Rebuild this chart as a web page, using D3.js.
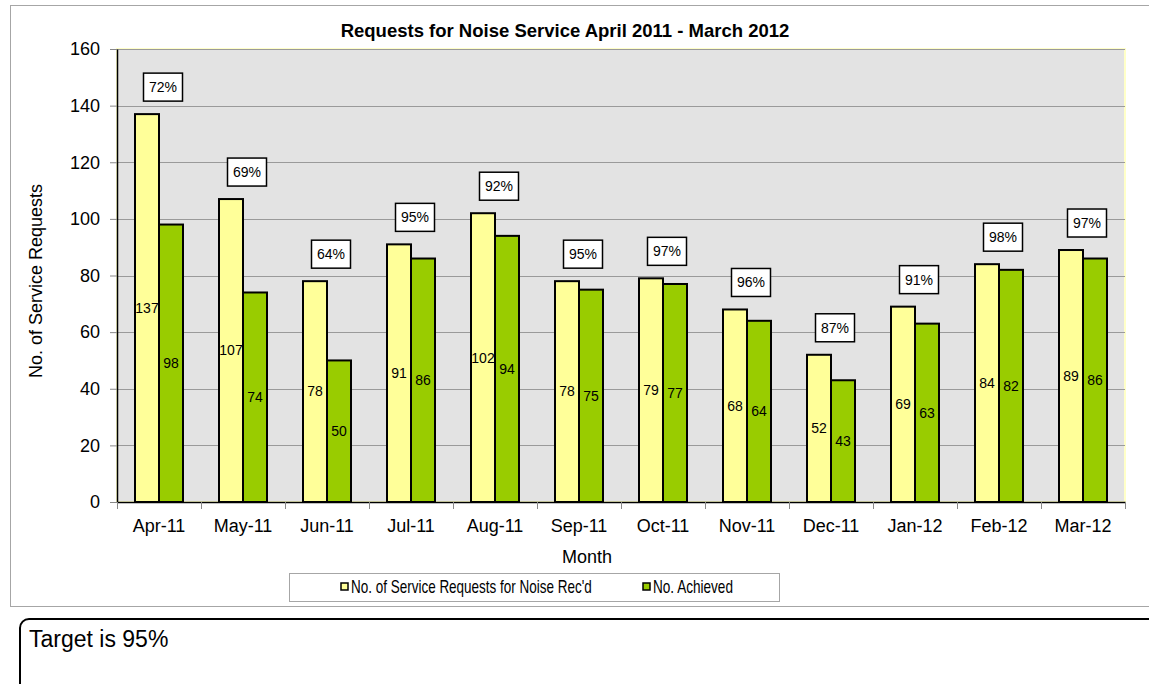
<!DOCTYPE html>
<html lang="en">
<head>
<meta charset="utf-8">
<title>Requests for Noise Service April 2011 - March 2012</title>
<script src="https://d3js.org/d3.v7.min.js"></script>
<style type="text/css">
  body { margin: 0; background: #ffffff; }
  #chart text { font-family: "Liberation Sans", Arial, sans-serif; fill: #000; }
</style>
</head>
<body>
<div id="chart"></div>
<script>
    // values
    const months = ["Apr-11", "May-11", "Jun-11", "Jul-11", "Aug-11", "Sep-11",
                    "Oct-11", "Nov-11", "Dec-11", "Jan-12", "Feb-12", "Mar-12"]
    const received = [137, 107, 78, 91, 102, 78, 79, 68, 52, 69, 84, 89]
    const achieved = [98, 74, 50, 86, 94, 75, 77, 64, 43, 63, 82, 86]
    const percentLabels = ["72%", "69%", "64%", "95%", "92%", "95%",
                           "97%", "96%", "87%", "91%", "98%", "97%"]
    const seriesNames = ["No. of Service Requests for Noise Rec'd", "No. Achieved"]
    const seriesColors = ["#ffff99", "#99cc00"]
    const yTicks = [0, 20, 40, 60, 80, 100, 120, 140, 160]

    const W = 1149, H = 684
    const plot = {left: 117, top: 49, right: 1125, bottom: 502}

    const svg = d3.select("#chart")
                 .append("svg")
                 .attr("width", W)
                 .attr("height", H)
                 .style("display", "block")

    svg.append("rect").attr("width", W).attr("height", H).attr("fill", "#fff")

    // chart frame
    svg.append("rect")
        .attr("x", 10.5).attr("y", 5.5)
        .attr("width", W + 20).attr("height", 601)
        .attr("fill", "none").attr("stroke", "#a6a6a6")

    const x0 = d3.scaleBand().domain(months).range([plot.left, plot.right]).padding(0)
    const x1 = d3.scaleBand().domain([0, 1]).range([0, x0.bandwidth()]).paddingInner(0).paddingOuter(0.75)
    const y = d3.scaleLinear().domain([0, 160]).range([plot.bottom, plot.top])

    // plot area
    svg.append("rect")
        .attr("x", plot.left).attr("y", plot.top)
        .attr("width", plot.right - plot.left).attr("height", plot.bottom - plot.top)
        .attr("fill", "#e3e3e3")
        .attr("stroke", "#ffffc8").attr("stroke-width", 2)

    // gridlines
    svg.append("g")
        .selectAll("line")
        .data(yTicks.filter(d => d > 0))
        .join("line")
        .attr("x1", plot.left).attr("x2", plot.right)
        .attr("y1", d => Math.round(y(d)) + 0.5).attr("y2", d => Math.round(y(d)) + 0.5)
        .attr("stroke", "#9a9a9a")

    // y axis
    const yAxis = svg.append("g")
        .attr("transform", `translate(${plot.left},0)`)
        .call(d3.axisLeft(y).tickValues(yTicks).tickSize(7).tickPadding(10).tickSizeOuter(0))
    yAxis.selectAll("text").style("font-size", "18px")
    yAxis.selectAll(".tick line").attr("stroke", "#888")
    yAxis.select(".domain").attr("stroke", "#000").attr("stroke-width", 1.5)

    // x axis, ticks sit between the categories
    const xAxis = svg.append("g")
        .attr("transform", `translate(0,${plot.bottom})`)
        .call(d3.axisBottom(x0).tickSize(0).tickPadding(17).tickSizeOuter(0))
    xAxis.selectAll("text").style("font-size", "18px")
    xAxis.select(".domain").attr("stroke", "#000").attr("stroke-width", 1.5)
    xAxis.append("g")
        .selectAll("line")
        .data(months.concat(["end"]))
        .join("line")
        .attr("x1", (d, i) => plot.left + i * x0.step() + 0.5)
        .attr("x2", (d, i) => plot.left + i * x0.step() + 0.5)
        .attr("y1", 0).attr("y2", 7)
        .attr("stroke", "#888")

    // bars
    const groups = svg.append("g")
        .selectAll("g")
        .data(months.map((m, i) => ({month: m, values: [received[i], achieved[i]], pct: percentLabels[i]})))
        .join("g")
        .attr("transform", d => `translate(${x0(d.month)},0)`)

    groups.selectAll("rect")
        .data(d => d.values)
        .join("rect")
        .attr("x", (d, i) => x1(i))
        .attr("y", d => y(d))
        .attr("width", x1.bandwidth())
        .attr("height", d => y(0) - y(d))
        .attr("fill", (d, i) => seriesColors[i])
        .attr("stroke", "#000")
        .attr("stroke-width", 2)

    // value labels in the middle of each bar
    groups.selectAll("text.val")
        .data(d => d.values)
        .join("text")
        .attr("class", "val")
        .attr("x", (d, i) => x1(i) + x1.bandwidth() / 2)
        .attr("y", d => (y(d) + y(0)) / 2)
        .attr("dy", "0.35em")
        .attr("text-anchor", "middle")
        .style("font-size", "14px")
        .text(d => d)

    // percentage boxes above each pair
    const pct = groups.append("g")
        .attr("transform", d => `translate(${x0.bandwidth() / 2 + 4},${y(d.values[0]) - 27})`)
    pct.append("rect")
        .attr("x", -19.5).attr("y", -14)
        .attr("width", 39).attr("height", 28)
        .attr("fill", "#fff").attr("stroke", "#000").attr("stroke-width", 1.5)
    pct.append("text")
        .attr("text-anchor", "middle")
        .attr("dy", "0.35em")
        .style("font-size", "14px")
        .text(d => d.pct)

    // titles
    svg.append("text")
        .attr("x", 565).attr("y", 37)
        .attr("text-anchor", "middle")
        .style("font-size", "18.5px").style("font-weight", "bold")
        .text("Requests for Noise Service April 2011 - March 2012")

    svg.append("text")
        .attr("x", 587).attr("y", 563)
        .attr("text-anchor", "middle")
        .style("font-size", "18px")
        .text("Month")

    svg.append("text")
        .attr("transform", "translate(42,281) rotate(-90)")
        .attr("text-anchor", "middle")
        .style("font-size", "18px")
        .text("No. of Service Requests")

    // legend (Excel squeezes the text horizontally)
    svg.append("rect")
        .attr("x", 289.5).attr("y", 573.5)
        .attr("width", 490).attr("height", 28)
        .attr("fill", "#fff").attr("stroke", "#a6a6a6")
    const legendX = [341, 643]
    const legendW = [241, 80]
    const legend = svg.append("g")
        .selectAll("g")
        .data(seriesNames)
        .join("g")
        .attr("transform", (d, i) => `translate(${legendX[i]},583)`)
    legend.append("rect")
        .attr("width", 7).attr("height", 7)
        .attr("fill", (d, i) => seriesColors[i])
        .attr("stroke", "#000").attr("stroke-width", 1.5)
    legend.append("text")
        .style("font-size", "17.5px")
        .text(d => d)
        .attr("transform", function(d, i) {
            const sx = legendW[i] / this.getComputedTextLength()
            return `translate(10,10) scale(${sx},1)`
        })

    // note box below the chart
    svg.append("rect")
        .attr("x", 20).attr("y", 619)
        .attr("width", W + 40).attr("height", 75)
        .attr("rx", 9)
        .attr("fill", "none").attr("stroke", "#000").attr("stroke-width", 2)
    svg.append("text")
        .attr("x", 29).attr("y", 647)
        .style("font-size", "23px")
        .text("Target is 95%")
</script>
</body>
</html>
